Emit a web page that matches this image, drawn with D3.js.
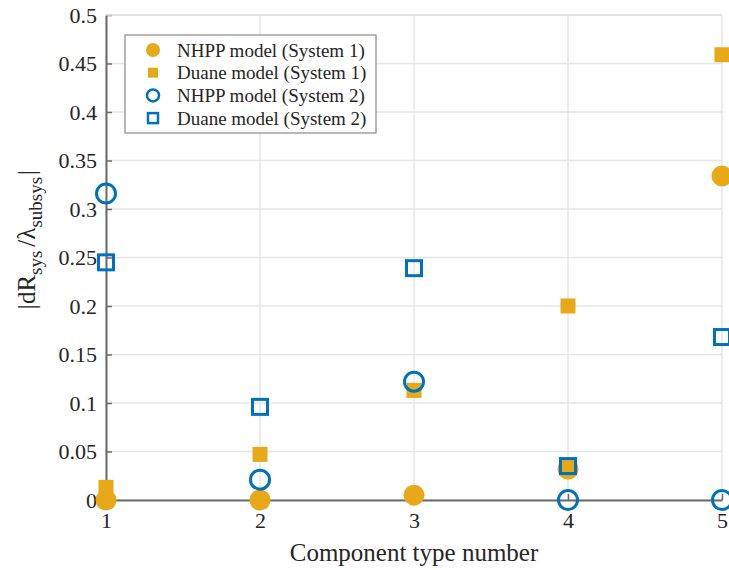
<!DOCTYPE html>
<html lang="en">
<head>
<meta charset="utf-8">
<title>dR sys / lambda subsys</title>
<script src="https://d3js.org/d3.v7.min.js"></script>
<style>
  body { margin: 0; background: #fff; }
  text { font-family: "Liberation Serif", "DejaVu Serif", serif; fill: #262626; }
</style>
</head>
<body>
<div id="chart"></div>
<script>
// data
const components = [1, 2, 3, 4, 5];
const nhppSys1  = [0, 0, 0.005, 0.032, 0.334];
const duaneSys1 = [0.013, 0.047, 0.113, 0.2, 0.459];
const nhppSys2  = [0.316, 0.021, 0.122, 0, 0];
const duaneSys2 = [0.245, 0.096, 0.239, 0.035, 0.168];
const yTicks = [0, 0.05, 0.1, 0.15, 0.2, 0.25, 0.3, 0.35, 0.4, 0.45, 0.5];

const orange = "#E8A919", blue = "#0072BD";

const series = [
  {name: "NHPP model (System 1)",  values: nhppSys1,  shape: "circle", fill: true,  color: orange},
  {name: "Duane model (System 1)", values: duaneSys1, shape: "square", fill: true,  color: orange},
  {name: "NHPP model (System 2)",  values: nhppSys2,  shape: "circle", fill: false, color: blue},
  {name: "Duane model (System 2)", values: duaneSys2, shape: "square", fill: false, color: blue}
];

var margin = {top: 15, right: 7, bottom: 70, left: 106},
  width = 729 - margin.left - margin.right,
  height = 570 - margin.top - margin.bottom;

const svg = d3.select("#chart").append("svg")
  .attr("width", 729)
  .attr("height", 570)
  .append("g")
  .attr("transform", "translate(" + margin.left + "," + margin.top + ")");

const x = d3.scaleLinear().domain([1, 5]).range([0, width]);
const y = d3.scaleLinear().domain([0, 0.5]).range([height, 0]);

// grid
svg.append("g").selectAll("line")
  .data(yTicks)
  .enter().append("line")
  .attr("x1", 0).attr("x2", width)
  .attr("y1", d => y(d)).attr("y2", d => y(d))
  .attr("stroke", "#e6e6e6").attr("stroke-width", 1.5);
svg.append("g").selectAll("line")
  .data(components)
  .enter().append("line")
  .attr("y1", 0).attr("y2", height)
  .attr("x1", d => x(d)).attr("x2", d => x(d))
  .attr("stroke", "#e6e6e6").attr("stroke-width", 1.5);

// axes (ticks inside, MATLAB style)
const xAxis = svg.append("g")
  .attr("transform", "translate(0," + height + ")")
  .call(d3.axisBottom(x).tickValues(components).tickFormat(d3.format("d")).tickSizeInner(-6).tickSizeOuter(0).tickPadding(12));
const yAxis = svg.append("g")
  .call(d3.axisLeft(y).tickValues(yTicks).tickFormat(d => d === 0 ? "0" : String(d)).tickSizeInner(-6).tickSizeOuter(0).tickPadding(9));

[xAxis, yAxis].forEach(a => {
  a.select(".domain").attr("stroke", "#6b6b6b").attr("stroke-width", 2);
  a.selectAll(".tick line").attr("stroke", "#6b6b6b").attr("stroke-width", 1.5);
  a.selectAll(".tick text").style("font-size", "22px").attr("fill", "#262626");
});

// markers
function drawMarker(g, s, cx, cy, big) {
  const r = big ? 9.5 : 6;
  const half = big ? 7.5 : 5;
  const sw = big ? 3 : 2.5;
  if (s.shape === "circle") {
    g.append("circle")
      .attr("cx", cx).attr("cy", cy)
      .attr("r", s.fill ? r + 1 : r)
      .attr("fill", s.fill ? s.color : "none")
      .attr("stroke", s.fill ? "none" : s.color)
      .attr("stroke-width", sw);
  } else {
    g.append("rect")
      .attr("x", cx - half).attr("y", cy - half)
      .attr("width", half * 2).attr("height", half * 2)
      .attr("fill", s.fill ? s.color : "none")
      .attr("stroke", s.fill ? "none" : s.color)
      .attr("stroke-width", sw);
  }
}

series.forEach(s => {
  const g = svg.append("g");
  s.values.forEach((v, i) => drawMarker(g, s, x(components[i]), y(v), true));
});

// legend
const legend = svg.append("g").attr("transform", "translate(19,20)");
legend.append("rect")
  .attr("width", 251).attr("height", 98)
  .attr("fill", "#fff").attr("stroke", "#8a8a8a").attr("stroke-width", 1.2);
series.forEach((s, i) => {
  const ly = 15 + i * 22.7;
  drawMarker(legend, s, 28, ly, false);
  legend.append("text")
    .attr("x", 52).attr("y", ly)
    .attr("dy", "0.35em")
    .style("font-size", "19px")
    .text(s.name);
});

// axis labels
svg.append("text")
  .attr("x", x(3)).attr("y", height + 61)
  .attr("text-anchor", "middle")
  .style("font-size", "25px")
  .text("Component type number");

const yl = svg.append("text")
  .attr("transform", "translate(" + (-71) + "," + (y(0.25) - 18) + ") rotate(-90)")
  .attr("text-anchor", "middle")
  .style("font-size", "25px");
yl.append("tspan").text("|dR");
yl.append("tspan").attr("dy", 7).style("font-size", "19px").text("sys");
yl.append("tspan").attr("dy", -7).attr("dx", 4).text("/\u03bb");
yl.append("tspan").attr("dy", 7).style("font-size", "19px").text("subsys");
yl.append("tspan").attr("dy", -7).attr("dx", 2).text("|");

// light box top/right
svg.append("line").attr("x1", 0).attr("x2", width).attr("y1", 0).attr("y2", 0)
  .attr("stroke", "#e0e0e0").attr("stroke-width", 1.5);
</script>
</body>
</html>
